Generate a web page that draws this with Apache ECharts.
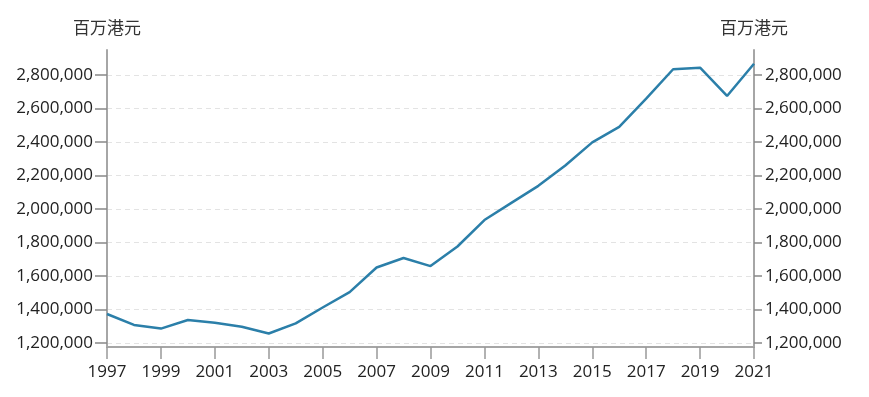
<!DOCTYPE html>
<html>
<head>
    <meta charset="utf-8">
    <title>香港本地生产总值</title>
    <script src="https://cdn.jsdelivr.net/npm/echarts@6/dist/echarts.min.js"></script>
    <style>
        html, body { margin: 0; padding: 0; background: #fff; }
        #chart1 { width: 869px; height: 397px; }
    </style>
</head>
<body>
<div id="chart1"></div>
<script type="text/javascript">
    // 年份
    var years = ['1997', '1998', '1999', '2000', '2001', '2002', '2003', '2004', '2005', '2006',
        '2007', '2008', '2009', '2010', '2011', '2012', '2013', '2014', '2015', '2016',
        '2017', '2018', '2019', '2020', '2021'];
    // 本地生产总值（百万港元）
    var gdp = [1373083, 1308074, 1285946, 1337501, 1321142, 1297341, 1256669, 1316949, 1412125, 1503351,
        1650756, 1707487, 1659245, 1776332, 1934430, 2037059, 2138558, 2260005, 2398280, 2490438,
        2659384, 2835157, 2844555, 2675580, 2867944];
    // 纵轴刻度
    var yTicks = [1200000, 1400000, 1600000, 1800000, 2000000, 2200000, 2400000, 2600000, 2800000];
    var unitName = '百万港元';

    var font = '"Open Sans", "Noto Sans CJK SC", sans-serif';
    var axisColor = '#a6a6a6';

    function yAxisConf(pos, tickLen, margin) {
        return {
            type: 'value',
            position: pos,
            name: unitName,
            nameGap: 12,
            nameTextStyle: { color: '#333', fontSize: 17, fontFamily: font },
            min: 1176000,
            max: 2950000,
            axisLine: { show: true, lineStyle: { color: axisColor, width: 2 } },
            axisTick: { show: true, length: tickLen, customValues: yTicks, lineStyle: { color: '#888', width: 1.5 } },
            axisLabel: {
                customValues: yTicks,
                margin: margin,
                color: '#222',
                fontSize: 17,
                fontFamily: font,
                formatter: function (v) { return v.toLocaleString('en-US'); }
            },
            splitLine: {
                show: pos === 'left',
                lineStyle: { color: '#e3e3e3', type: [5, 4], width: 1 }
            }
        };
    }

    var myChart1 = echarts.init(document.getElementById('chart1'));
    myChart1.setOption({
        animation: false,
        grid: { left: 107, right: 115, top: 50, bottom: 50, containLabel: false },
        xAxis: {
            type: 'category',
            data: years,
            boundaryGap: false,
            axisLine: { lineStyle: { color: axisColor, width: 2 } },
            axisTick: { show: true, interval: 1, length: 12, lineStyle: { color: '#999', width: 1.5 } },
            axisLabel: { interval: 1, margin: 17, color: '#222', fontSize: 17, fontFamily: font },
            splitLine: { show: false }
        },
        yAxis: [yAxisConf('left', 12, 14), yAxisConf('right', 8, 11)],
        series: [{
            name: unitName,
            type: 'line',
            yAxisIndex: 0,
            data: gdp,
            showSymbol: false,
            symbol: 'none',
            lineStyle: { color: '#2b7fa9', width: 2.5 }
        }]
    });
</script>
</body>
</html>
